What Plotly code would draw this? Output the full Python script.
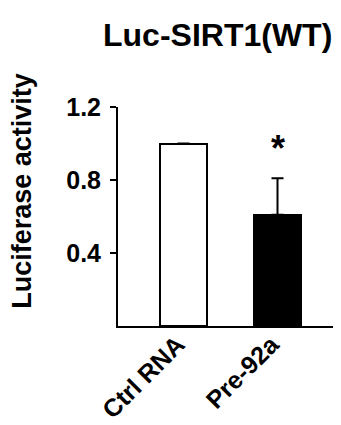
import plotly.graph_objects as go

categories = ["Ctrl RNA", "Pre-92a"]
values = [1.0, 0.61]
errors_plus = [0.0, 0.20]
bar_colors = ["white", "black"]
y_ticks = [0.4, 0.8, 1.2]
y_tick_labels = ["0.4", "0.8", "1.2"]
title_text = "Luc-SIRT1(WT)"
y_title = "Luciferase activity"
sig_marks = ["", "*"]

FONT = "Liberation Sans, Arial, sans-serif"

fig = go.Figure()
fig.add_trace(go.Bar(
    x=[0, 1],
    y=values,
    width=0.5,
    marker=dict(color=bar_colors, line=dict(color="black", width=2)),
    error_y=dict(type="data", symmetric=False, array=errors_plus,
                 arrayminus=[0, 0], color="black", thickness=2, width=6),
    showlegend=False,
))

for i, (v, e, s) in enumerate(zip(values, errors_plus, sig_marks)):
    if s:
        fig.add_annotation(x=i, y=v + e + 0.04, text=s, showarrow=False,
                           xref="x", yref="y", yanchor="bottom",
                           font=dict(family=FONT, size=36, color="black", weight="bold"))

fig.add_annotation(x=-0.44, y=0.616, xref="paper", yref="paper",
                   xanchor="center", yanchor="middle",
                   text=y_title, textangle=-90, showarrow=False,
                   font=dict(family=FONT, size=27, color="black", weight="bold"))

fig.update_layout(
    width=341, height=425,
    margin=dict(l=110, r=12, t=99, b=107, autoexpand=False),
    paper_bgcolor="white", plot_bgcolor="white",
    title=dict(text=title_text, x=0.455, xref="paper", xanchor="center",
               y=1 - 27 / 425, yref="container", yanchor="middle",
               font=dict(family=FONT, size=32, color="black", weight="bold")),
    bargap=0,
)
fig.update_xaxes(
    range=[-0.697, 1.633], tickmode="array", tickvals=[0, 1], ticktext=categories,
    tickangle=-45, showline=True, linecolor="black", linewidth=2,
    ticks="", showgrid=False, zeroline=False, automargin=False,
    ticklabelstandoff=-8, ticklabelshift=-6,
    tickfont=dict(family=FONT, size=25, color="black", weight="bold"),
)
fig.update_yaxes(
    range=[0, 1.2], tickmode="array", tickvals=y_ticks, ticktext=y_tick_labels,
    showline=True, linecolor="black", linewidth=2, ticks="outside", ticklen=6,
    tickwidth=1.5, tickcolor="black", showgrid=False, zeroline=False,
    ticklabelstandoff=4, automargin=False,
    tickfont=dict(family=FONT, size=25, color="black", weight="bold"),
)

fig.write_html("out.html")
